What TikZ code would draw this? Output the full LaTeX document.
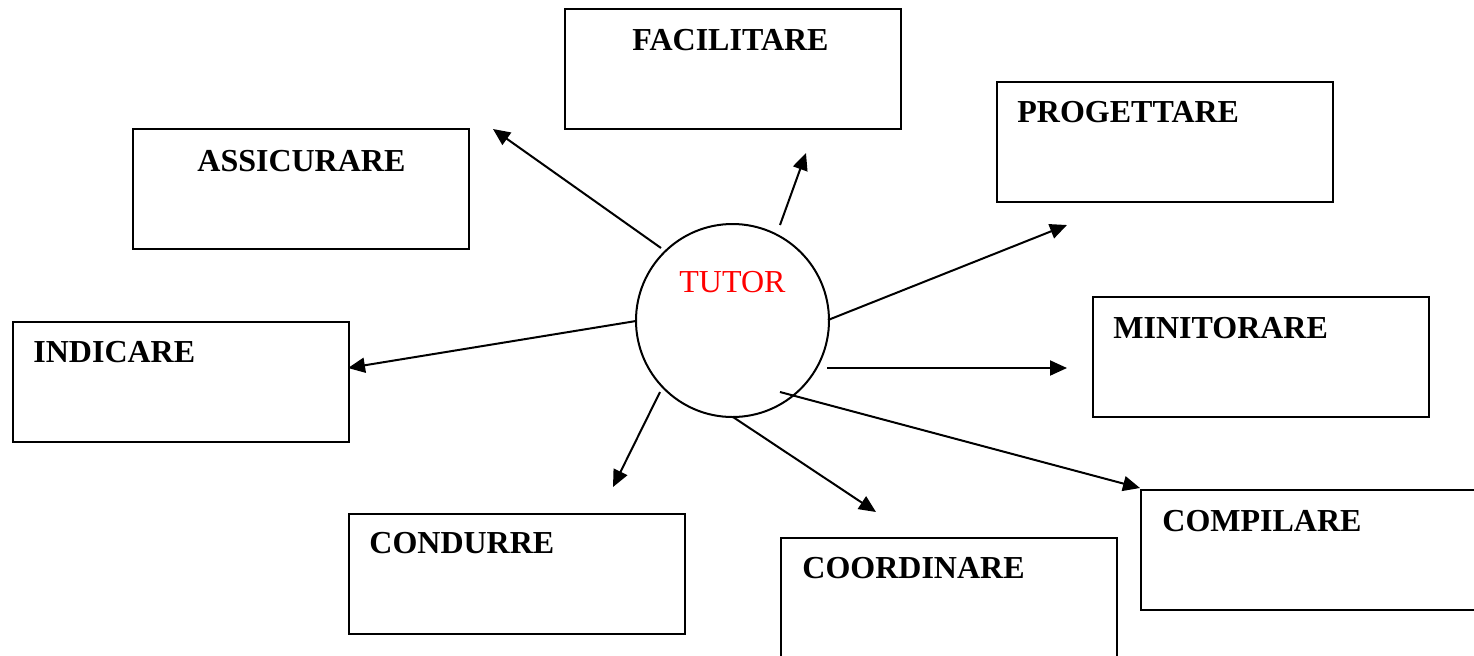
\documentclass[tikz,border=0pt]{standalone}
\usepackage{fontspec}
\setmainfont{Liberation Serif}
\usetikzlibrary{arrows.meta}
\tikzset{
  box/.style={draw, line width=1pt, rectangle, anchor=north west, inner sep=0pt,
              minimum width=168pt, minimum height=60pt},
  lbl/.style={anchor=base west, inner sep=0pt, font=\fontsize{16}{19}\selectfont\bfseries},
  hub/.style={draw, line width=1pt, circle, inner sep=0pt, minimum size=96.5pt},
  arr/.style={line width=1pt, -{Triangle[length=8.5pt,width=7.5pt]}}
}
\begin{document}
\begin{tikzpicture}[x=0.5pt,y=-0.5pt]
\clip (0,0) rectangle (1474,655);
\fill[white] (0,0) rectangle (1474,655);
% boxes
\node[box] (fac) at (564,8) {};
\node[box] (pro) at (996,81) {};
\node[box] (ass) at (132,128) {};
\node[box] (ind) at (12,321) {};
\node[box] (min) at (1092,296) {};
\node[box] (con) at (348,513) {};
\node[box] (coo) at (780,537) {};
\node[box] (com) at (1140,489) {};
% labels
\node[lbl] (tfac) at (632,50) {FACILITARE};
\node[lbl] (tpro) at (1017,122) {PROGETTARE};
\node[lbl] (tass) at (197,171) {ASSICURARE};
\node[lbl] (tind) at (33,362) {INDICARE};
\node[lbl] (tmin) at (1113,338) {MINITORARE};
\node[lbl] (tcon) at (369,553) {CONDURRE};
\node[lbl] (tcoo) at (802,578) {COORDINARE};
\node[lbl] (tcom) at (1162,531) {COMPILARE};
% hub
\node[hub] (tutor) at (732.5,320.5) {};
\node[anchor=base west, inner sep=0pt, text=red, font=\fontsize{16}{19}\selectfont] (ttut) at (679,292) {TUTOR};
% arrow end points
\coordinate (sass) at (661,248); \coordinate (eass) at (493,129);
\coordinate (sfac) at (780,225); \coordinate (efac) at (806,153);
\coordinate (spro) at (828,320); \coordinate (epro) at (1067,225);
\coordinate (smin) at (827,368); \coordinate (emin) at (1067,368);
\coordinate (sind) at (636,321); \coordinate (eind) at (348,368);
\coordinate (scom) at (780,392); \coordinate (ecom) at (1140,488);
\coordinate (scoo) at (733,417); \coordinate (ecoo) at (876,512);
\coordinate (scon) at (660,392); \coordinate (econ) at (613,487);
\draw[arr] (sass) -- (eass);
\draw[arr] (sfac) -- (efac);
\draw[arr] (spro) -- (epro);
\draw[arr] (smin) -- (emin);
\draw[arr] (sind) -- (eind);
\draw[arr] (scom) -- (ecom);
\draw[arr] (scoo) -- (ecoo);
\draw[arr] (scon) -- (econ);
\end{tikzpicture}
\end{document}
